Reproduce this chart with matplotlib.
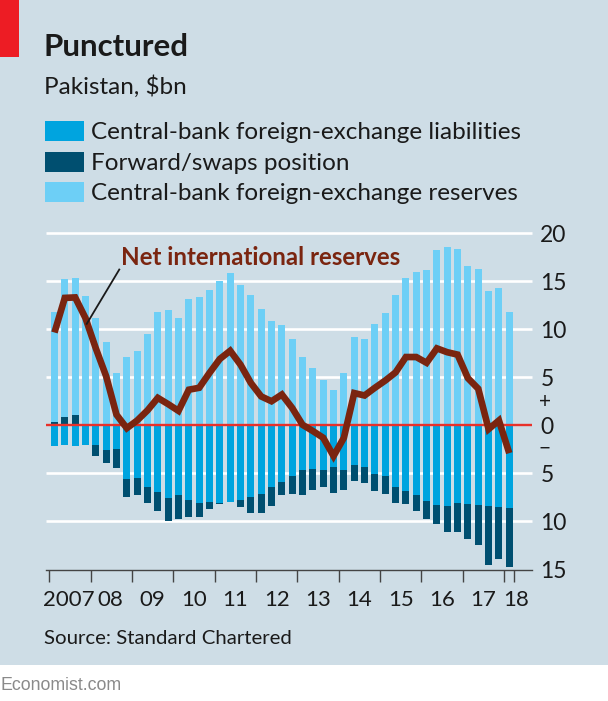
"""Punctured: Pakistan reserves, Economist style stacked bars with a net line."""

import matplotlib

matplotlib.use("Agg")
import matplotlib.pyplot as plt  # noqa: E402
import numpy as np  # noqa: E402
from matplotlib.patches import Rectangle  # noqa: E402

BG = "#CEDDE6"
RED = "#ED1C24"
ZERO = "#E8312A"
RESERVES = "#6DCFF6"
LIABILITIES = "#00A4DF"
FORWARD = "#004F70"
NET = "#7A2510"
TEXT = "#1A1A1A"
FONT = ["Lato", "Open Sans", "DejaVu Sans"]
W, H = 608, 701

# quarterly, 2007 Q1 to 2018 Q1
reserves = [11.75, 15.2, 15.3, 13.4, 11.15, 8.7, 5.45, 7.1, 7.7, 9.5, 11.75, 12.0,
            11.15, 13.1, 13.3, 14.1, 15.0, 15.8, 14.6, 13.5, 12.1, 10.85, 10.4, 9.0,
            7.1, 6.0, 4.75, 3.65, 5.45, 9.2, 9.0, 10.55, 11.7, 13.55, 15.3, 15.95,
            16.15, 18.2, 18.55, 18.35, 16.55, 16.25, 14.0, 14.3, 11.8]
liabilities = [2.2, 2.1, 2.2, 2.1, 2.1, 2.55, 2.45, 5.6, 5.45, 6.4, 6.9, 7.55,
               7.3, 7.75, 8.05, 7.95, 8.1, 7.95, 7.75, 7.5, 7.15, 6.4, 5.95, 5.25,
               4.6, 4.5, 4.65, 4.35, 4.6, 4.1, 4.3, 5.05, 5.25, 6.4, 6.8, 7.25,
               7.85, 8.25, 8.35, 8.05, 8.15, 8.3, 8.4, 8.45, 8.65]
# positive = long position, negative = short position
forward = [0.35, 0.87, 1.05, 0, -1.1, -1.35, -1.95, -1.85, -1.8, -1.65, -2.05, -2.4,
           -2.45, -1.75, -1.5, -0.75, -0.1, 0.1, -0.75, -1.65, -1.95, -1.95, -1.25, -1.9,
           -2.6, -2.2, -1.8, -2.65, -2.1, -1.7, -1.7, -1.8, -1.85, -1.65, -1.4, -1.65,
           -1.9, -2.0, -2.7, -3.05, -3.65, -4.15, -6.1, -5.45, -6.1]
net = [9.65, 13.25, 13.3, 11.15, 8.0, 5.1, 1.1, -0.3, 0.5, 1.55, 2.85, 2.2,
       1.5, 3.7, 3.9, 5.45, 6.9, 7.75, 6.3, 4.4, 3.0, 2.5, 3.2, 1.8,
       0.05, -0.6, -1.3, -3.2, -1.3, 3.35, 3.1, 3.9, 4.65, 5.5, 7.1, 7.1,
       6.5, 8.0, 7.6, 7.35, 4.9, 3.8, -0.4, 0.5, -2.9]
y_ticks = [20, 15, 10, 5, 0, -5, -10, -15]
y_tick_labels = ["20", "15", "10", "5", "0", "5", "10", "15"]
year_ticks = [-0.5, 3.5, 7.5, 11.5, 15.5, 19.5, 23.5, 27.5, 31.5, 35.5, 39.5, 43.5, 44.5]
year_labels = ["2007", "08", "09", "10", "11", "12", "13", "14", "15", "16", "17", "18"]
year_label_pos = [1.35, 5.4, 9.45, 13.5, 17.5, 21.5, 25.5, 29.5, 33.5, 37.5, 41.5, 44.7]
legend_labels = ["Central-bank foreign-exchange liabilities", "Forward/swaps position",
                 "Central-bank foreign-exchange reserves"]
legend_colors = [LIABILITIES, FORWARD, RESERVES]

plt.rcParams["font.family"] = FONT


def fig_text(fig, x, y, s, **kw):
    """Place text using reference pixel coordinates."""
    kw.setdefault("va", "center")
    kw.setdefault("color", TEXT)
    return fig.text(x / W, 1 - y / H, s, **kw)


def fig_rect(fig, x, y, w, h, color):
    fig.add_artist(Rectangle((x / W, 1 - (y + h) / H), w / W, h / H, zorder=-1,
                             transform=fig.transFigure, facecolor=color, edgecolor="none"))


fig = plt.figure(figsize=(W / 100, H / 100), dpi=100, facecolor="white")
fig_rect(fig, 0, 0, W, 665, BG)
fig_rect(fig, 0, 0, 19, 57, RED)

ax = fig.add_axes([46 / W, 1 - 569.5 / H, 486 / W, (569.5 - 233) / H])
ax.patch.set_alpha(0)
xs = np.arange(len(reserves))
res = np.array(reserves)
lia = np.array(liabilities)
fwd = np.array(forward)

ax.hlines([v for v in y_ticks if v not in (0, -15)], -0.82, 46.2, color="white", lw=1.9, zorder=1,
          clip_on=False)
ax.bar(xs, res, width=0.68, color=RESERVES, zorder=2)
ax.bar(xs, -lia, width=0.68, color=LIABILITIES, zorder=2)
long_pos = np.where(fwd > 0, fwd, 0)
short_pos = np.where(fwd < 0, fwd, 0)
ax.bar(xs, long_pos, width=0.68, color=FORWARD, zorder=3)
ax.bar(xs, short_pos, bottom=-lia, width=0.68, color=FORWARD, zorder=3)
ax.hlines(0, -0.82, 46.2, color=ZERO, lw=1.7, zorder=4)
ax.plot([3.12, 6.27], [10.55, 16.2], color="#1A1A1A", lw=1.3, zorder=6)
ax.plot(xs, net, color=NET, lw=4.8, solid_joinstyle="miter", solid_capstyle="butt", zorder=5)

ax.set_xlim(-0.82, 46.2)
ax.set_ylim(-15, 20)
for side in ("top", "left", "right"):
    ax.spines[side].set_visible(False)
ax.spines["bottom"].set_color("#444444")
ax.spines["bottom"].set_linewidth(1.0)
ax.set_xticks(year_ticks)
ax.set_xticklabels([])
ax.tick_params(axis="x", length=8.5, width=1.0, color="#444444")
ax.yaxis.tick_right()
ax.set_yticks(y_ticks)
ax.set_yticklabels(y_tick_labels, fontsize=16.5, color=TEXT, ha="left")
ax.tick_params(axis="y", length=0, pad=6)

for pos, lab in zip(year_label_pos, year_labels):
    ax.annotate(lab, xy=(pos, -15), xytext=(0, -22), textcoords="offset points",
                ha="center", va="center", fontsize=16, color=TEXT)

ax.text(6.4, 17.4, "Net international reserves", color=NET, fontsize=17.4, fontweight="bold",
        ha="left", va="center")
fig_text(fig, 545, 402, "+", fontsize=15, ha="center")
fig_text(fig, 545, 449, "\u2212", fontsize=15, ha="center")

fig_text(fig, 44, 47, "Punctured", fontsize=22.5, fontweight="bold")
fig_text(fig, 44, 87, "Pakistan, $bn", fontsize=17.5)
for y, lab, col in zip([121, 152, 182], legend_labels, legend_colors):
    fig_rect(fig, 45, y, 39, 19.5, col)
    fig_text(fig, 91, y + 11.5, lab, fontsize=17.5)
fig_text(fig, 44, 639, "Source: Standard Chartered", fontsize=14.7)
fig_text(fig, 0, 685, "Economist.com", fontsize=12.8, color="#8A8A8A", family="Liberation Sans")

fig.savefig("out.png", dpi=100, facecolor="white")
